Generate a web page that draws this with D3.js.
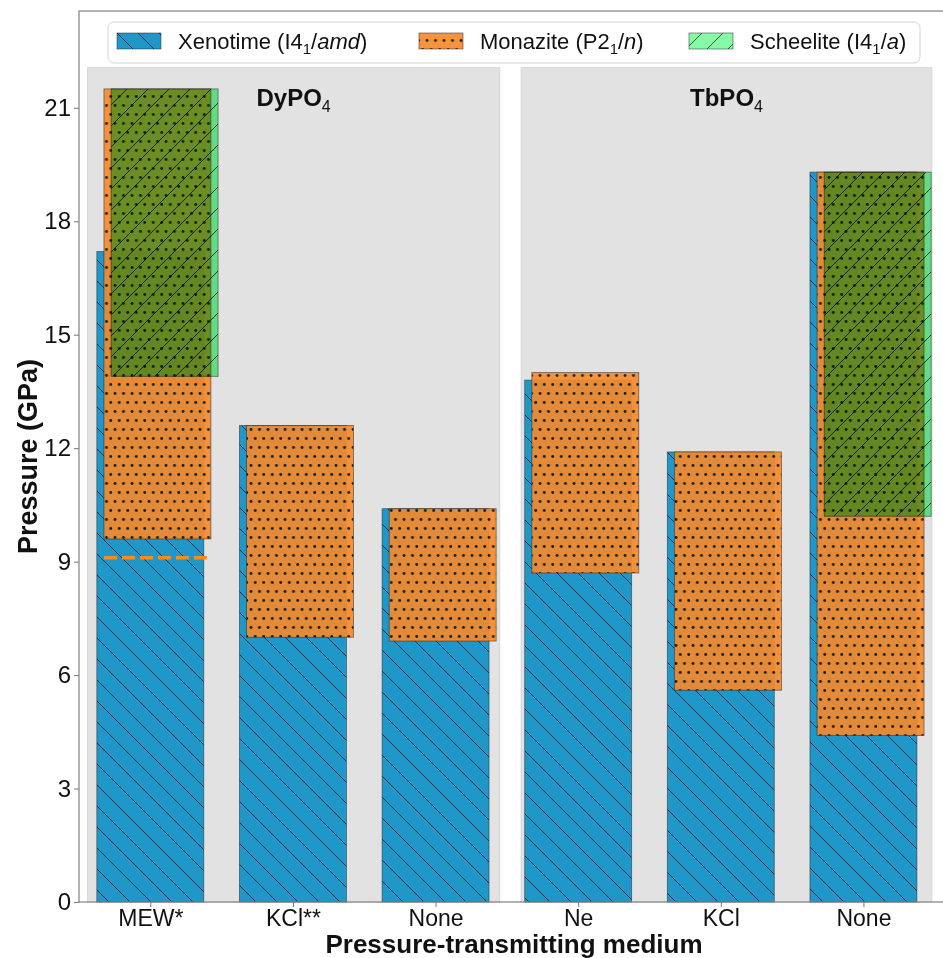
<!DOCTYPE html>
<html>
<head>
<meta charset="utf-8">
<script src="https://cdn.jsdelivr.net/npm/d3@7"></script>
<style>
	body { margin: 0; background: #fff; }
	svg { display: block; font-family: 'Liberation Sans', Arial, sans-serif; }
	.tick text { fill: #111; }
</style>
</head>
<body>
<svg id="chart" width="943" height="958"></svg>
<script>

// pressure-transmitting media, one bar group each
var media = [ 'MEW*', 'KCl**', 'None', 'Ne', 'KCl', 'None' ];

// xenotime is stable from 0 up to this pressure (GPa)
var xenotimeTop = [ 17.2, 12.6, 10.4, 13.8, 11.9, 19.3 ];

// monazite range
var monaziteLow = [ 9.6, 7.0, 6.9, 8.7, 5.6, 4.4 ];
var monaziteHigh = [ 21.5, 12.6, 10.4, 14.0, 11.9, 19.3 ];

// scheelite range (only seen in two runs)
var scheeliteLow = [ 13.9, null, null, null, null, 10.2 ];
var scheeliteHigh = [ 21.5, null, null, null, null, 19.3 ];

// onset marker drawn as dashed line
var onsetLine = [ 9.1, null, null, null, null, null ];

var compounds = [ 'DyPO', 'TbPO' ];
var compoundSpan = [ [ -0.44, 2.45 ], [ 2.6, 5.48 ] ];

var yTicks = [ 0, 3, 6, 9, 12, 15, 18, 21 ];

var colors = { xenotime: '#1f97c9', monazite: '#f58a2d', scheelite: '#70f896' };

var padding = { top: 11, right: -6, bottom: 56, left: 79 };
var width = 943 - padding.left - padding.right;
var height = 958 - padding.top - padding.bottom;

var svg = d3.select( '#chart' );

var x = d3.scaleLinear().domain( [ -0.5, 5.6 ] ).range( [ 0, width ] );
var y = d3.scaleLinear().domain( [ 0, 23.56 ] ).range( [ height, 0 ] );

var barWidth = 0.75;
var shift = 0.05;
var hs = 21; // hatch repeat

// hatch patterns
var defs = svg.append( 'defs' );

var xp = defs.append( 'pattern' )
	.attr( 'id', 'hatch-xeno' )
	.attr( 'patternUnits', 'userSpaceOnUse' )
	.attr( 'width', hs ).attr( 'height', hs );
xp.append( 'rect' ).attr( 'width', hs ).attr( 'height', hs ).attr( 'fill', colors.xenotime );
xp.append( 'path' )
	.attr( 'd', 'M-2,-2L' + ( hs + 2 ) + ',' + ( hs + 2 ) )
	.attr( 'stroke', '#0e3047' ).attr( 'stroke-width', 1 ).attr( 'fill', 'none' );

var mp = defs.append( 'pattern' )
	.attr( 'id', 'hatch-mona' )
	.attr( 'patternUnits', 'userSpaceOnUse' )
	.attr( 'width', 8.5 ).attr( 'height', 18 );
mp.append( 'rect' ).attr( 'width', 8.5 ).attr( 'height', 18 ).attr( 'fill', colors.monazite );
mp.append( 'circle' ).attr( 'cx', 2 ).attr( 'cy', 4.5 ).attr( 'r', 1.4 ).attr( 'fill', '#111' );
mp.append( 'circle' ).attr( 'cx', 6.25 ).attr( 'cy', 13.5 ).attr( 'r', 1.4 ).attr( 'fill', '#111' );

var sp = defs.append( 'pattern' )
	.attr( 'id', 'hatch-sche' )
	.attr( 'patternUnits', 'userSpaceOnUse' )
	.attr( 'width', hs ).attr( 'height', hs );
sp.append( 'rect' ).attr( 'width', hs ).attr( 'height', hs ).attr( 'fill', colors.scheelite );
sp.append( 'path' )
	.attr( 'd', 'M-2,' + ( hs + 2 ) + 'L' + ( hs + 2 ) + ',-2' )
	.attr( 'stroke', '#1d3d1d' ).attr( 'stroke-width', 1 ).attr( 'fill', 'none' );

var plot = svg.append( 'g' )
	.attr( 'transform', 'translate(' + padding.left + ',' + padding.top + ')' );

// gray panels per compound
plot.selectAll( 'rect.panel' )
	.data( compoundSpan )
	.enter()
	.append( 'rect' )
	.classed( 'panel', true )
	.attr( 'x', function ( d ) { return x( d[0] ); } )
	.attr( 'width', function ( d ) { return x( d[1] ) - x( d[0] ); } )
	.attr( 'y', y( 22.06 ) )
	.attr( 'height', y( 0 ) - y( 22.06 ) )
	.attr( 'fill', '#e2e2e2' )
	.attr( 'stroke', '#d6d6d6' )
	.attr( 'stroke-width', 1 );

plot.selectAll( 'text.compound' )
	.data( compounds )
	.enter()
	.append( 'text' )
	.classed( 'compound', true )
	.attr( 'x', function ( d, i ) { return x( ( compoundSpan[i][0] + compoundSpan[i][1] ) / 2 ); } )
	.attr( 'y', y( 21.05 ) )
	.attr( 'text-anchor', 'middle' )
	.style( 'font-size', '24px' )
	.style( 'font-weight', 'bold' )
	.style( 'fill', '#111' )
	.each( function ( d ) {
		var t = d3.select( this );
		t.append( 'tspan' ).text( d );
		t.append( 'tspan' ).attr( 'dy', 6 ).style( 'font-size', '16px' ).style( 'font-weight', 'normal' ).text( '4' );
	} );

var idx = d3.range( media.length );

var edge = function ( sel ) {
	sel.attr( 'stroke', '#222' ).attr( 'stroke-width', 0.8 ).attr( 'stroke-opacity', 0.6 );
};

// xenotime
plot.selectAll( 'rect.xeno' )
	.data( idx )
	.enter()
	.append( 'rect' )
	.classed( 'xeno', true )
	.attr( 'x', function ( i ) { return x( i - barWidth / 2 ); } )
	.attr( 'width', x( barWidth ) - x( 0 ) )
	.attr( 'y', function ( i ) { return y( xenotimeTop[i] ); } )
	.attr( 'height', function ( i ) { return y( 0 ) - y( xenotimeTop[i] ); } )
	.attr( 'fill', 'url(#hatch-xeno)' )
	.call( edge );

// monazite
plot.selectAll( 'rect.mona' )
	.data( idx )
	.enter()
	.append( 'rect' )
	.classed( 'mona', true )
	.attr( 'x', function ( i ) { return x( i + shift - barWidth / 2 ); } )
	.attr( 'width', x( barWidth ) - x( 0 ) )
	.attr( 'y', function ( i ) { return y( monaziteHigh[i] ); } )
	.attr( 'height', function ( i ) { return y( monaziteLow[i] ) - y( monaziteHigh[i] ); } )
	.attr( 'fill', 'url(#hatch-mona)' )
	.attr( 'fill-opacity', 0.92 )
	.call( edge );

// scheelite
plot.selectAll( 'rect.sche' )
	.data( idx.filter( function ( i ) { return scheeliteLow[i] !== null; } ) )
	.enter()
	.append( 'rect' )
	.classed( 'sche', true )
	.attr( 'x', function ( i ) { return x( i + 2 * shift - barWidth / 2 ); } )
	.attr( 'width', x( barWidth ) - x( 0 ) )
	.attr( 'y', function ( i ) { return y( scheeliteHigh[i] ); } )
	.attr( 'height', function ( i ) { return y( scheeliteLow[i] ) - y( scheeliteHigh[i] ); } )
	.attr( 'fill', 'url(#hatch-sche)' )
	.style( 'mix-blend-mode', 'multiply' )
	.call( edge );

// dashed onset line
plot.selectAll( 'line.onset' )
	.data( idx.filter( function ( i ) { return onsetLine[i] !== null; } ) )
	.enter()
	.append( 'line' )
	.classed( 'onset', true )
	.attr( 'x1', function ( i ) { return x( i + shift - barWidth / 2 ); } )
	.attr( 'x2', function ( i ) { return x( i + shift + barWidth / 2 ); } )
	.attr( 'y1', function ( i ) { return y( onsetLine[i] ); } )
	.attr( 'y2', function ( i ) { return y( onsetLine[i] ); } )
	.attr( 'stroke', '#ff8a1c' )
	.attr( 'stroke-width', 3.5 )
	.attr( 'stroke-dasharray', '13,5' );

// axes
var xAxis = d3.axisBottom( x )
	.tickValues( idx )
	.tickSize( 5 )
	.tickPadding( 3 )
	.tickFormat( function ( i ) { return media[i]; } );

var yAxis = d3.axisLeft( y )
	.tickValues( yTicks )
	.tickSize( 5 )
	.tickPadding( 3 );

var gx = plot.append( 'g' )
	.attr( 'transform', 'translate(0,' + height + ')' )
	.call( xAxis );

var gy = plot.append( 'g' )
	.call( yAxis );

[ gx, gy ].forEach( function ( g ) {
	g.select( '.domain' ).remove();
	g.selectAll( '.tick line' ).attr( 'stroke', '#777' );
	g.selectAll( '.tick text' ).style( 'font-size', '23px' ).style( 'font-family', "'Liberation Sans', Arial, sans-serif" );
} );
gy.selectAll( '.tick text' ).style( 'font-size', '24px' );

// frame
plot.append( 'rect' )
	.attr( 'x', 0 ).attr( 'y', 0 )
	.attr( 'width', width ).attr( 'height', height )
	.attr( 'fill', 'none' )
	.attr( 'stroke', '#808080' )
	.attr( 'stroke-width', 1.2 );

// axis titles
svg.append( 'text' )
	.attr( 'transform', 'translate(37,' + ( padding.top + height / 2 ) + ') rotate(-90)' )
	.attr( 'text-anchor', 'middle' )
	.style( 'font-size', '27px' )
	.style( 'font-weight', 'bold' )
	.style( 'fill', '#111' )
	.text( 'Pressure (GPa)' );

svg.append( 'text' )
	.attr( 'x', padding.left + width / 2 )
	.attr( 'y', 953 )
	.attr( 'text-anchor', 'middle' )
	.style( 'font-size', '26px' )
	.style( 'font-weight', 'bold' )
	.style( 'fill', '#111' )
	.text( 'Pressure-transmitting medium' );

// legend
var legend = svg.append( 'g' );

legend.append( 'rect' )
	.attr( 'x', 108 ).attr( 'y', 22 )
	.attr( 'width', 812 ).attr( 'height', 41 )
	.attr( 'rx', 6 )
	.attr( 'fill', '#fff' )
	.attr( 'stroke', '#d4d4d4' );

var legendItems = [
	{ fill: 'url(#hatch-xeno)', parts: [ [ 'Xenotime (I4' ], [ '1', 'sub' ], [ '/' ], [ 'amd', 'it' ], [ ')' ] ] },
	{ fill: 'url(#hatch-mona)', parts: [ [ 'Monazite (P2' ], [ '1', 'sub' ], [ '/' ], [ 'n', 'it' ], [ ')' ] ] },
	{ fill: 'url(#hatch-sche)', parts: [ [ 'Scheelite (I4' ], [ '1', 'sub' ], [ '/' ], [ 'a', 'it' ], [ ')' ] ] }
];
var legendX = [ 117, 419, 689 ];

legendItems.forEach( function ( item, i ) {

	legend.append( 'rect' )
		.attr( 'x', legendX[i] ).attr( 'y', 33 )
		.attr( 'width', 44 ).attr( 'height', 16 )
		.attr( 'fill', item.fill )
		.attr( 'fill-opacity', i === 1 ? 0.92 : ( i === 2 ? 0.85 : 1 ) )
		.call( edge );

	var t = legend.append( 'text' )
		.attr( 'x', legendX[i] + 61 )
		.attr( 'y', 49 )
		.style( 'font-size', '22px' )
		.style( 'fill', '#111' );

	var lowered = false;
	item.parts.forEach( function ( p ) {
		var ts = t.append( 'tspan' ).text( p[0] );
		if ( p[1] === 'sub' ) {
			ts.attr( 'dy', 5 ).style( 'font-size', '15px' );
			lowered = true;
		} else if ( lowered ) {
			ts.attr( 'dy', -5 );
			lowered = false;
		}
		if ( p[1] === 'it' ) {
			ts.style( 'font-style', 'italic' );
		}
	} );

} );

</script>
</body>
</html>
